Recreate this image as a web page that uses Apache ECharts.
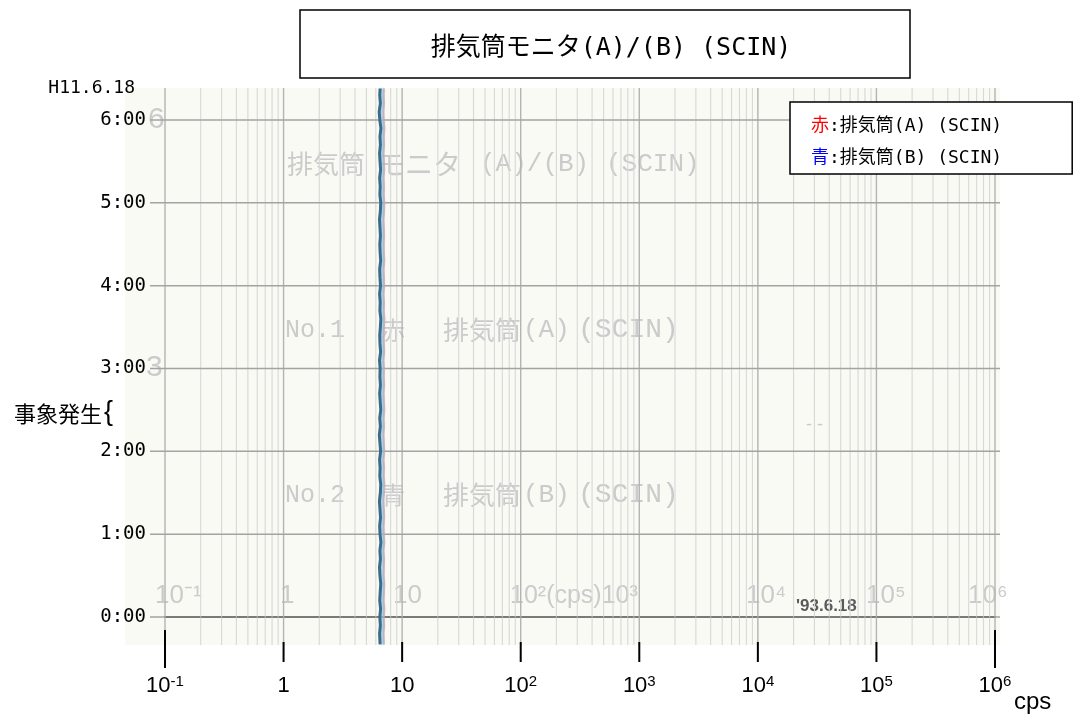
<!DOCTYPE html>
<html>
<head>
<meta charset="utf-8">
<script src="https://cdn.jsdelivr.net/npm/echarts@6/dist/echarts.min.js"></script>
<style>
  html, body { margin: 0; padding: 0; background: #ffffff; }
  #chart { width: 1077px; height: 716px; }
</style>
</head>
<body>
<div id="chart"></div>
<script>
// Sample times (hours after 0:00 on H11.6.18)
const TIMES = [
  -0.33, -0.2, -0.1,
  0.0, 0.1, 0.2, 0.3, 0.4, 0.5, 0.6, 0.7, 0.8, 0.9,
  1.0, 1.1, 1.2, 1.3, 1.4, 1.5, 1.6, 1.7, 1.8, 1.9,
  2.0, 2.1, 2.2, 2.3, 2.4, 2.5, 2.6, 2.7, 2.8, 2.9,
  3.0, 3.1, 3.2, 3.3, 3.4, 3.5, 3.6, 3.7, 3.8, 3.9,
  4.0, 4.1, 4.2, 4.3, 4.4, 4.5, 4.6, 4.7, 4.8, 4.9,
  5.0, 5.1, 5.2, 5.3, 5.4, 5.5, 5.6, 5.7, 5.8, 5.9,
  6.0, 6.1, 6.2, 6.3, 6.38
];

// Stack monitor (A), red pen [cps]
const RATE_A = [
  7.02, 6.96, 7.05, 6.99, 7.08, 6.97, 7.03, 7.06, 6.98, 7.01,
  7.04, 6.95, 7.07, 7.00, 6.97, 7.05, 7.02, 6.94, 7.03, 7.08,
  6.99, 7.04, 6.96, 7.06, 7.01, 6.95, 7.03, 6.98, 7.07, 7.02,
  6.97, 7.05, 7.00, 7.03, 6.95, 7.06, 7.01, 6.98, 7.04, 7.08,
  7.00, 7.03, 6.96, 7.05, 7.02, 6.97, 7.07, 7.01, 6.99, 7.04,
  7.01, 6.95, 7.04, 7.07, 7.00, 7.03, 6.97, 7.06, 7.02, 6.96,
  7.04, 7.00, 7.08, 6.99, 6.94, 7.03, 6.98, 7.02
];

// Stack monitor (B), blue pen [cps]
const RATE_B = [
  6.52, 6.45, 6.55, 6.48, 6.58, 6.47, 6.53, 6.60, 6.50, 6.44,
  6.56, 6.49, 6.62, 6.51, 6.46, 6.57, 6.50, 6.43, 6.55, 6.60,
  6.48, 6.52, 6.45, 6.58, 6.50, 6.42, 6.55, 6.47, 6.60, 6.53,
  6.46, 6.56, 6.49, 6.52, 6.44, 6.58, 6.50, 6.47, 6.55, 6.61,
  6.49, 6.53, 6.45, 6.57, 6.50, 6.46, 6.59, 6.52, 6.48, 6.56,
  6.50, 6.44, 6.55, 6.60, 6.49, 6.53, 6.46, 6.58, 6.51, 6.45,
  6.56, 6.50, 6.62, 6.48, 6.40, 6.55, 6.47, 6.52
];

const SERIES_NAMES = ['赤:排気筒(A) (SCIN)', '青:排気筒(B) (SCIN)'];
const DECADES = [0.1, 1, 10, 100, 1e3, 1e4, 1e5, 1e6];
const MINOR_STEPS = [2, 3, 4, 5, 6, 7, 8, 9];
const HOURS = [0, 1, 2, 3, 4, 5, 6];
const HOUR_LABELS = ['0:00', '1:00', '2:00', '3:00', '4:00', '5:00', '6:00'];
const DATE_LABEL = 'H11.6.18';
const EVENT_LABEL = '事象発生';
const UNIT_LABEL = 'cps';
const TITLE = '排気筒モニタ(A)/(B) (SCIN)';

const Y_MIN = -0.398, Y_MAX = 6.386;
const MONO = '"DejaVu Sans Mono", "Noto Sans CJK JP", monospace';
const SANS = '"Liberation Sans", Arial, sans-serif';
const PAPER_TEXT = '#cbcbcb';
const PAPER_CJK = '"Noto Sans CJK JP", sans-serif';
const PAPER_LAT = '"Liberation Mono", monospace';

const pair = (xs, ys) => xs.map((x, i) => [ys[i], x]);

// chart-paper ruling: decades (major) and 2..9 subdivisions (minor)
const vLines = [];
DECADES.forEach((d, i) => {
  vLines.push([d, 0, 1]);
  if (i < DECADES.length - 1) MINOR_STEPS.forEach(m => vLines.push([d * m, 0, 0]));
});
const hLines = HOURS.map(h => [1, h]);
const decadeTicks = DECADES.map((d, i) => [d, Y_MIN, (i === 0 || i === DECADES.length - 1) ? 1 : 0]);

// faint printing on the recorder paper
const paperText = (x, y, text, font, fill) => ({
  type: 'text', z: -5, x, y,
  style: { text, font, fill: fill || PAPER_TEXT, verticalAlign: 'middle' }
});

const chart = echarts.init(document.getElementById('chart'), null, { renderer: 'canvas' });

chart.setOption({
  animation: false,
  backgroundColor: '#ffffff',
  title: {
    text: TITLE,
    left: 606,
    top: 31,
    textAlign: 'center',
    textStyle: { fontFamily: MONO, fontSize: 25, fontWeight: 'normal', color: '#000' }
  },
  legend: {
    orient: 'vertical',
    left: 790,
    top: 102,
    z: 20,
    icon: 'none',
    itemWidth: 0,
    itemHeight: 18,
    itemGap: 14,
    padding: [15, 70, 7, 16],
    backgroundColor: '#ffffff',
    borderColor: '#000',
    borderWidth: 1.5,
    selectedMode: false,
    data: SERIES_NAMES,
    formatter: name => '{c' + (name === SERIES_NAMES[0] ? 'r' : 'b') + '|' + name.charAt(0) + '}' + name.slice(1),
    textStyle: {
      fontFamily: MONO, fontSize: 18, color: '#000',
      rich: {
        cr: { fontFamily: MONO, fontSize: 18, color: '#ff0000' },
        cb: { fontFamily: MONO, fontSize: 18, color: '#0000ff' }
      }
    }
  },
  grid: { left: 165, right: 82, top: 88, bottom: 66, containLabel: false },
  xAxis: {
    type: 'log',
    logBase: 10,
    min: 0.1,
    max: 1e6,
    splitNumber: 7,
    axisLine: { show: true, lineStyle: { color: '#000', width: 2 } },
    axisTick: { show: false },
    splitLine: { show: false },
    minorSplitLine: { show: false },
    axisLabel: {
      margin: 24,
      color: '#000',
      fontFamily: SANS,
      fontSize: 22,
      lineHeight: 24,
      formatter: v => {
        const e = Math.round(Math.log10(v));
        if (e === 0) return '1';
        if (e === 1) return '10';
        return '10{sup|' + e + '}';
      },
      rich: {
        sup: { fontSize: 15, lineHeight: 14, verticalAlign: 'top', fontFamily: SANS, color: '#000' }
      }
    }
  },
  yAxis: {
    type: 'value',
    min: Y_MIN,
    max: Y_MAX,
    name: DATE_LABEL,
    nameLocation: 'end',
    nameGap: 0,
    nameTextStyle: {
      fontFamily: MONO, fontSize: 18, color: '#000',
      align: 'right', verticalAlign: 'middle', padding: [0, 30, 0, 0]
    },
    axisLine: { show: false },
    axisTick: { show: false },
    splitLine: { show: false },
    axisLabel: {
      customValues: HOURS,
      margin: 19,
      color: '#000',
      fontFamily: MONO,
      fontSize: 19,
      formatter: v => HOUR_LABELS[HOURS.indexOf(Math.round(v))] || ''
    }
  },
  graphic: [
    // scanned recorder paper
    { type: 'rect', z: -10, shape: { x: 125, y: 88, width: 875, height: 557 }, style: { fill: '#f8faf3' } },
    paperText(148, 120, '6', '30px ' + SANS),
    paperText(146, 368, '3', '30px ' + SANS),
    paperText(287, 164, '排気筒', '26px ' + PAPER_CJK),
    paperText(377, 164, 'モニタ', '28px ' + PAPER_CJK),
    paperText(480, 164, '(A)/(B)', '26px ' + PAPER_LAT),
    paperText(606, 164, '(SCIN)', '26px ' + PAPER_LAT),
    paperText(285, 330, 'No.1', '25px ' + PAPER_LAT),
    paperText(381, 330, '赤', '24px ' + PAPER_CJK),
    paperText(443, 330, '排気筒', '26px ' + PAPER_CJK),
    paperText(523, 330, '(A)', '26px ' + PAPER_LAT),
    paperText(578, 330, '(SCIN)', '28px ' + PAPER_LAT),
    paperText(285, 495, 'No.2', '25px ' + PAPER_LAT),
    paperText(381, 495, '青', '24px ' + PAPER_CJK),
    paperText(443, 495, '排気筒', '26px ' + PAPER_CJK),
    paperText(523, 495, '(B)', '26px ' + PAPER_LAT),
    paperText(578, 495, '(SCIN)', '28px ' + PAPER_LAT),
    paperText(806, 425, '- -', '18px ' + SANS),
    paperText(155, 596, '10⁻¹', '26px ' + SANS),
    paperText(280, 596, '1', '26px ' + SANS),
    paperText(393, 596, '10', '26px ' + SANS),
    paperText(510, 596, '10²(cps)10³', '25px ' + SANS),
    paperText(746, 596, '10⁴', '26px ' + SANS),
    paperText(866, 596, '10⁵', '26px ' + SANS),
    paperText(968, 596, '10⁶', '26px ' + SANS),
    paperText(796, 606, "'93.6.18", 'bold 17px ' + SANS, '#5a5a5a'),
    // title frame
    { type: 'rect', z: 10, shape: { x: 300, y: 10, width: 610, height: 68 }, style: { fill: 'none', stroke: '#000', lineWidth: 1.5 } },
    // event annotation
    { type: 'text', z: 10, x: 102, y: 414, style: { text: EVENT_LABEL, font: '22px "Noto Sans CJK JP", sans-serif', fill: '#000', align: 'right', verticalAlign: 'middle' } },
    { type: 'text', z: 10, x: 104, y: 413, style: { text: '{', font: '27px "Liberation Sans", sans-serif', fill: '#000', verticalAlign: 'middle' } },
    // unit of the cps axis
    { type: 'text', z: 10, x: 1014, y: 702, style: { text: UNIT_LABEL, font: '24px ' + SANS, fill: '#000', verticalAlign: 'middle' } }
  ],
  series: [
    {
      // log-paper verticals
      type: 'custom',
      name: 'paper-v',
      silent: true,
      clip: false,
      z: 1,
      data: vLines,
      renderItem: (params, api) => {
        const cs = params.coordSys;
        const x = api.coord([api.value(0), Y_MAX])[0];
        const major = api.value(2) === 1;
        return {
          type: 'line',
          shape: { x1: x, y1: cs.y, x2: x, y2: cs.y + cs.height - 5 },
          style: { stroke: major ? '#b4b4b4' : '#d8d8d8', lineWidth: major ? 1.4 : 1.1 }
        };
      }
    },
    {
      // hour rulings
      type: 'custom',
      name: 'paper-h',
      silent: true,
      clip: false,
      z: 1,
      data: hLines,
      renderItem: (params, api) => {
        const cs = params.coordSys;
        const y = api.coord([1, api.value(1)])[1];
        return {
          type: 'line',
          shape: { x1: cs.x - 15, y1: y, x2: cs.x + cs.width + 5, y2: y },
          style: { stroke: '#a3a3a3', lineWidth: 1.5 }
        };
      }
    },
    {
      // decade ticks crossing the cps axis
      type: 'custom',
      name: 'ticks',
      silent: true,
      clip: false,
      z: 5,
      data: decadeTicks,
      renderItem: (params, api) => {
        const p = api.coord([api.value(0), api.value(1)]);
        const end = api.value(2) === 1;
        return {
          type: 'line',
          shape: { x1: p[0], y1: p[1] - (end ? 20 : 8), x2: p[0], y2: p[1] + (end ? 18 : 12) },
          style: { stroke: '#000', lineWidth: 2 }
        };
      }
    },
    {
      name: SERIES_NAMES[0],
      type: 'line',
      z: 3,
      showSymbol: false,
      symbol: 'none',
      data: pair(TIMES, RATE_A),
      itemStyle: { color: '#ff0000' },
      lineStyle: { color: 'rgba(226,150,170,0.75)', width: 2 }
    },
    {
      name: SERIES_NAMES[1],
      type: 'line',
      z: 4,
      showSymbol: false,
      symbol: 'none',
      data: pair(TIMES, RATE_B),
      itemStyle: { color: '#0000ff' },
      lineStyle: {
        color: '#3c6b8a', width: 3,
        shadowColor: 'rgba(130,195,225,0.8)', shadowBlur: 2, shadowOffsetX: 2
      }
    }
  ]
});
</script>
</body>
</html>
